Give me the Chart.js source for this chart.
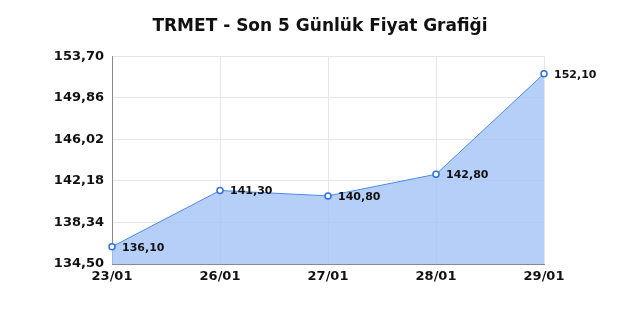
<!DOCTYPE html>
<html>
<head>
<meta charset="utf-8">
<script src="https://cdn.jsdelivr.net/npm/chart.js@4"></script>
<style>
  html, body { margin: 0; padding: 0; background: #fff; }
  #wrap { width: 640px; height: 320px; }
</style>
</head>
<body>
<div id="wrap"><canvas id="c" width="640" height="320"></canvas></div>
<script>
const labels = ['23/01', '26/01', '27/01', '28/01', '29/01'];
const prices = [136.10, 141.30, 140.80, 142.80, 152.10];
const yTicks = [134.50, 138.34, 142.18, 146.02, 149.86, 153.70];

const fmt = v => v.toFixed(2).replace('.', ',');

// etiketler noktaların sağında
const pointLabelPlugin = {
    id: 'pointLabelPlugin',
    afterDatasetsDraw(chart) {
        const ctx = chart.ctx;
        const meta = chart.getDatasetMeta(0);
        ctx.save();
        ctx.font = 'bold 11px "DejaVu Sans"';
        ctx.fillStyle = '#111';
        ctx.textAlign = 'left';
        ctx.textBaseline = 'middle';
        meta.data.forEach((pt, i) => {
            ctx.fillText(fmt(prices[i]), pt.x + 10, pt.y + 1);
        });
        ctx.restore();
    }
};

new Chart(document.getElementById('c'), {
    type: 'line',
    data: {
        labels: labels,
        datasets: [{
            data: prices,
            borderColor: '#4d88ec',
            borderWidth: 1,
            backgroundColor: 'rgba(165,196,246,0.82)',
            fill: 'start',
            tension: 0,
            pointRadius: 3,
            pointBorderWidth: 1.5,
            pointBackgroundColor: '#fff',
            pointBorderColor: '#2f6fe0'
        }]
    },
    options: {
        responsive: false,
        animation: false,
        layout: { padding: 0 },
        plugins: {
            legend: { display: false },
            tooltip: { enabled: false },
            title: {
                display: true,
                text: 'TRMET - Son 5 Günlük Fiyat Grafiği',
                color: '#111',
                font: { family: 'DejaVu Sans', size: 17, weight: 'bold' },
                padding: { top: 16, bottom: 20 }
            }
        },
        scales: {
            x: {
                offset: false,
                grid: { color: '#e6e6e6', drawTicks: false },
                border: { color: '#888', width: 1 },
                ticks: {
                    color: '#111',
                    padding: 5,
                    maxRotation: 0,
                    font: { family: 'DejaVu Sans', size: 13, weight: 'bold' }
                },
                afterFit(scale) { scale.height = 56; }
            },
            y: {
                min: 134.50,
                max: 153.70,
                grid: { color: '#e6e6e6', drawTicks: false },
                border: { color: '#888', width: 1 },
                afterBuildTicks(scale) { scale.ticks = yTicks.map(v => ({ value: v })); },
                ticks: {
                    color: '#111',
                    padding: 8,
                    font: { family: 'DejaVu Sans', size: 13, weight: 'bold' },
                    callback: v => fmt(v)
                },
                afterFit(scale) { scale.width = 112; }
            },
            // sağ boşluk için görünmez eksen
            yRight: {
                position: 'right',
                grid: { display: false },
                border: { display: false },
                ticks: { display: false },
                afterFit(scale) { scale.width = 96; }
            }
        }
    },
    plugins: [pointLabelPlugin]
});
</script>
</body>
</html>
